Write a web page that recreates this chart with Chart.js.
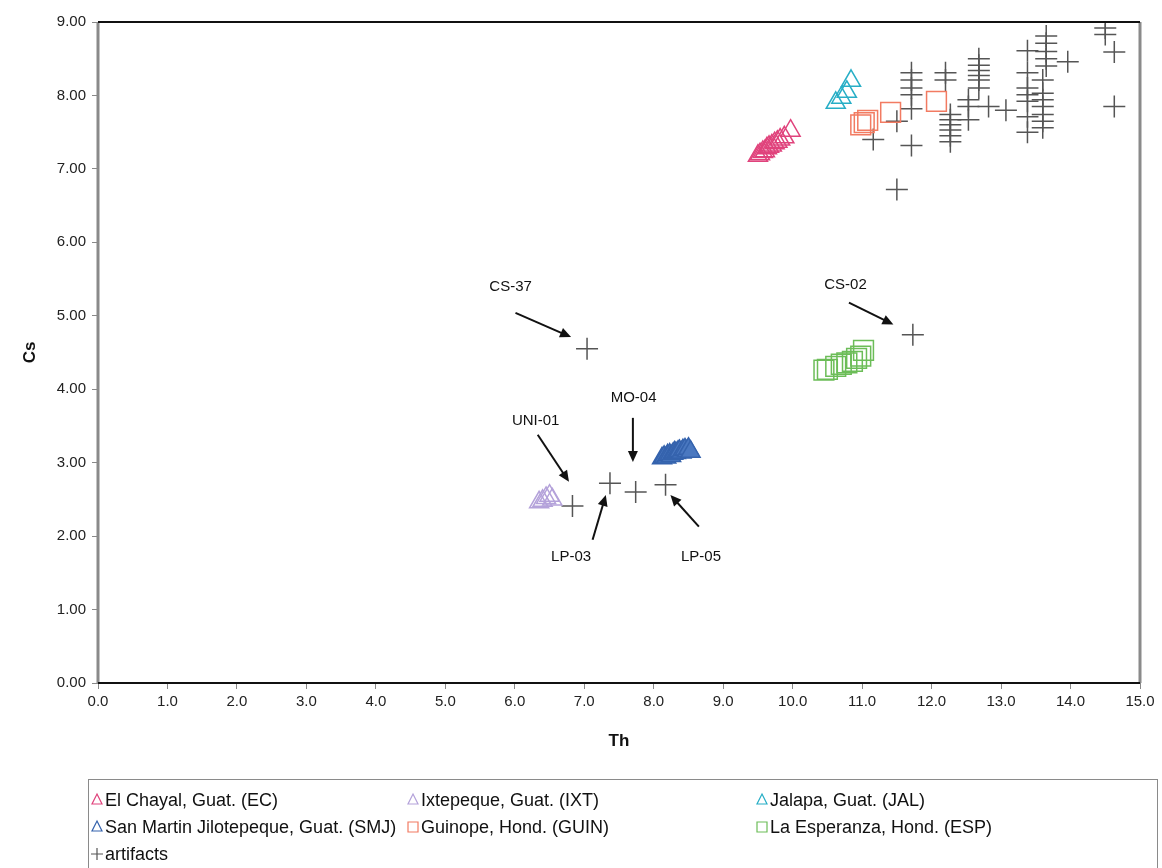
<!DOCTYPE html>
<html>
<head>
<meta charset="utf-8">
<script src="https://cdn.jsdelivr.net/npm/chart.js@4.4.1/dist/chart.umd.min.js"></script>
<style>
  html, body { margin: 0; padding: 0; background: #fff; }
  #wrap { width: 1162px; height: 868px; position: relative; }
</style>
</head>
<body>
<div id="wrap"><canvas id="chart" width="1162" height="868"></canvas></div>
<script>
// tick labels
const thTicks = ["0.0","1.0","2.0","3.0","4.0","5.0","6.0","7.0","8.0","9.0","10.0","11.0","12.0","13.0","14.0","15.0"];
const csTicks = ["0.00","1.00","2.00","3.00","4.00","5.00","6.00","7.00","8.00","9.00"];

// source samples (Th, Cs)
const ecTh = [9.50, 9.53, 9.57, 9.60, 9.63, 9.66, 9.70, 9.74, 9.78, 9.82, 9.88, 9.97];
const ecCs = [7.18, 7.20, 7.23, 7.24, 7.28, 7.30, 7.32, 7.35, 7.37, 7.40, 7.43, 7.52];

const ixtTh = [6.35, 6.40, 6.45, 6.50, 6.54];
const ixtCs = [2.46, 2.48, 2.52, 2.55, 2.50];

const jalTh = [10.62, 10.70, 10.78, 10.84];
const jalCs = [7.90, 7.97, 8.05, 8.20];

const smjTh = [8.12, 8.15, 8.18, 8.20, 8.23, 8.25, 8.28, 8.30, 8.32, 8.35, 8.37, 8.40, 8.42, 8.45, 8.48, 8.50, 8.53];
const smjCs = [3.06, 3.08, 3.07, 3.10, 3.11, 3.09, 3.12, 3.14, 3.13, 3.15, 3.16, 3.14, 3.17, 3.18, 3.16, 3.19, 3.15];

const guinTh = [10.98, 11.03, 11.08, 11.41, 12.07];
const guinCs = [7.60, 7.63, 7.66, 7.77, 7.92];

const espTh = [10.45, 10.50, 10.62, 10.70, 10.78, 10.86, 10.92, 10.98, 11.02];
const espCs = [4.26, 4.27, 4.31, 4.34, 4.36, 4.38, 4.42, 4.45, 4.53];

// artifacts
const artTh = [7.04, 11.73, 6.83, 7.37, 7.74, 8.17,
  11.16, 11.50, 11.50, 11.71, 11.71, 11.71, 11.71, 11.71, 11.71,
  12.20, 12.20,
  12.27, 12.27, 12.27, 12.27, 12.27, 12.27,
  12.53, 12.53, 12.53,
  12.68, 12.68, 12.68, 12.68, 12.68, 12.68,
  12.82, 13.07,
  13.38, 13.38, 13.38, 13.38, 13.38, 13.38, 13.38,
  13.60, 13.60, 13.60, 13.60, 13.60, 13.60, 13.60,
  13.65, 13.65, 13.65, 13.65, 13.65,
  13.96, 14.50, 14.50, 14.63, 14.63];
const artCs = [4.55, 4.74, 2.41, 2.72, 2.60, 2.70,
  7.40, 7.65, 6.72, 7.32, 8.31, 8.21, 8.10, 8.01, 7.82,
  8.31, 8.21,
  7.74, 7.67, 7.60, 7.53, 7.45, 7.37,
  7.94, 7.85, 7.67,
  8.50, 8.41, 8.34, 8.27, 8.21, 8.10,
  7.85, 7.80,
  8.61, 8.31, 8.10, 8.01, 7.92, 7.71, 7.50,
  8.21, 8.03, 7.94, 7.85, 7.74, 7.65, 7.56,
  8.81, 8.71, 8.60, 8.50, 8.40,
  8.46, 8.92, 8.83, 8.59, 7.85];

// labelled artifacts: text anchor and arrow from/to, in data units
const callouts = [
  { text: "CS-37",  tx: 5.94,  ty: 5.40, fx: 6.01,  fy: 5.04, ex: 6.81, ey: 4.71 },
  { text: "CS-02",  tx: 10.76, ty: 5.42, fx: 10.81, fy: 5.18, ex: 11.45, ey: 4.88 },
  { text: "MO-04",  tx: 7.71,  ty: 3.88, fx: 7.70,  fy: 3.61, ex: 7.70, ey: 3.01 },
  { text: "UNI-01", tx: 6.30,  ty: 3.57, fx: 6.33,  fy: 3.38, ex: 6.78, ey: 2.74 },
  { text: "LP-03",  tx: 6.81,  ty: 1.72, fx: 7.12,  fy: 1.95, ex: 7.31, ey: 2.56 },
  { text: "LP-05",  tx: 8.68,  ty: 1.72, fx: 8.65,  fy: 2.13, ex: 8.24, ey: 2.56 }
];

const toPts = (xs, ys) => xs.map((x, i) => ({ x: x, y: ys[i] }));

const series = [
  { label: "El Chayal, Guat. (EC)", pts: toPts(ecTh, ecCs), style: "triangle", color: "#e0437c", r: 11 },
  { label: "Ixtepeque, Guat. (IXT)", pts: toPts(ixtTh, ixtCs), style: "triangle", color: "#b4a2da", r: 11 },
  { label: "Jalapa, Guat. (JAL)", pts: toPts(jalTh, jalCs), style: "triangle", color: "#27aec6", r: 11 },
  { label: "San Martin Jilotepeque, Guat. (SMJ)", pts: toPts(smjTh, smjCs), style: "triangle", color: "#3563ad", r: 11, fill: "#4a78c0" },
  { label: "Guinope, Hond. (GUIN)", pts: toPts(guinTh, guinCs), style: "rect", color: "#f27b62", r: 14 },
  { label: "La Esperanza, Hond. (ESP)", pts: toPts(espTh, espCs), style: "rect", color: "#6cbd58", r: 14 },
  { label: "artifacts", pts: toPts(artTh, artCs), style: "cross", color: "#555555", r: 11 }
];

// frame, callouts and legend box
const extras = {
  id: "extras",
  afterDatasetsDraw(chart) {
    const { ctx, chartArea: a, scales } = chart;
    const xs = scales.x, ys = scales.y;
    ctx.save();
    // plot frame
    ctx.lineWidth = 3;
    ctx.strokeStyle = "#8a8a8a";
    ctx.beginPath(); ctx.moveTo(a.left, a.top); ctx.lineTo(a.left, a.bottom); ctx.stroke();
    ctx.beginPath(); ctx.moveTo(a.right, a.top); ctx.lineTo(a.right, a.bottom); ctx.stroke();
    ctx.lineWidth = 2;
    ctx.strokeStyle = "#111";
    ctx.beginPath(); ctx.moveTo(a.left, a.top); ctx.lineTo(a.right, a.top); ctx.stroke();
    ctx.beginPath(); ctx.moveTo(a.left, a.bottom); ctx.lineTo(a.right, a.bottom); ctx.stroke();

    // callouts
    ctx.font = "15px 'Liberation Sans', Arial, sans-serif";
    ctx.fillStyle = "#111";
    ctx.textAlign = "center";
    ctx.textBaseline = "middle";
    callouts.forEach(c => {
      ctx.fillText(c.text, xs.getPixelForValue(c.tx), ys.getPixelForValue(c.ty));
      const x1 = xs.getPixelForValue(c.fx), y1 = ys.getPixelForValue(c.fy);
      const x2 = xs.getPixelForValue(c.ex), y2 = ys.getPixelForValue(c.ey);
      const ang = Math.atan2(y2 - y1, x2 - x1);
      const hl = 11, hw = 5;
      ctx.strokeStyle = "#111";
      ctx.lineWidth = 2;
      ctx.beginPath();
      ctx.moveTo(x1, y1);
      ctx.lineTo(x2 - Math.cos(ang) * hl * 0.8, y2 - Math.sin(ang) * hl * 0.8);
      ctx.stroke();
      ctx.beginPath();
      ctx.moveTo(x2, y2);
      ctx.lineTo(x2 - Math.cos(ang) * hl + Math.sin(ang) * hw, y2 - Math.sin(ang) * hl - Math.cos(ang) * hw);
      ctx.lineTo(x2 - Math.cos(ang) * hl - Math.sin(ang) * hw, y2 - Math.sin(ang) * hl + Math.cos(ang) * hw);
      ctx.closePath();
      ctx.fill();
    });

    // legend
    ctx.lineWidth = 1;
    ctx.strokeStyle = "#8a8a8a";
    ctx.strokeRect(88.5, 779.5, 1069, 100);
    const colX = [97, 413, 762];
    const rowY = [800, 827, 854];
    ctx.font = "18px 'Liberation Sans', Arial, sans-serif";
    ctx.textAlign = "left";
    series.forEach((s, i) => {
      const x = colX[i % 3], y = rowY[Math.floor(i / 3)];
      ctx.strokeStyle = s.color;
      ctx.lineWidth = 1.2;
      ctx.beginPath();
      if (s.style === "triangle") {
        ctx.moveTo(x, y - 6); ctx.lineTo(x + 5, y + 4); ctx.lineTo(x - 5, y + 4); ctx.closePath();
      } else if (s.style === "rect") {
        ctx.rect(x - 5, y - 5, 10, 10);
      } else {
        ctx.moveTo(x - 6, y); ctx.lineTo(x + 6, y); ctx.moveTo(x, y - 6); ctx.lineTo(x, y + 6);
      }
      ctx.stroke();
      ctx.fillStyle = "#111";
      ctx.fillText(s.label, x + 8, y + 1);
    });
    ctx.restore();
  }
};

Chart.defaults.font.family = "'Liberation Sans', Arial, sans-serif";
Chart.defaults.color = "#222";

new Chart(document.getElementById("chart").getContext("2d"), {
  type: "scatter",
  data: {
    datasets: series.map(s => ({
      label: s.label,
      data: s.pts,
      pointStyle: s.style,
      pointRadius: s.r,
      pointHoverRadius: s.r,
      pointBorderWidth: 1.5,
      borderColor: s.color,
      backgroundColor: s.fill || "rgba(0,0,0,0)"
    }))
  },
  options: {
    responsive: false,
    animation: false,
    devicePixelRatio: 1,
    layout: { padding: { left: 0, top: 22, right: 22, bottom: 111 } },
    plugins: { legend: { display: false }, tooltip: { enabled: false } },
    scales: {
      x: {
        type: "linear",
        min: 0, max: 15,
        afterFit: (scale) => { scale.height = 74; },
        ticks: { stepSize: 1, padding: 4, font: { size: 15 }, color: "#222",
          callback: (v) => thTicks[Math.round(v)] },
        grid: { drawOnChartArea: false, drawTicks: true, tickLength: 6, color: "#888" },
        border: { display: false },
        title: { display: true, text: "Th", font: { size: 17, weight: "bold" }, color: "#111",
          padding: { top: 0, bottom: 5 } }
      },
      y: {
        type: "linear",
        min: 0, max: 9,
        afterFit: (scale) => { scale.width = 98; },
        ticks: { stepSize: 1, padding: 6, font: { size: 15 }, color: "#222",
          callback: (v) => csTicks[Math.round(v)] },
        grid: { drawOnChartArea: false, drawTicks: true, tickLength: 6, color: "#888" },
        border: { display: false },
        title: { display: true, text: "Cs", font: { size: 17, weight: "bold" }, color: "#111",
          padding: { top: 20, bottom: 0 } }
      }
    }
  },
  plugins: [extras]
});
</script>
</body>
</html>
